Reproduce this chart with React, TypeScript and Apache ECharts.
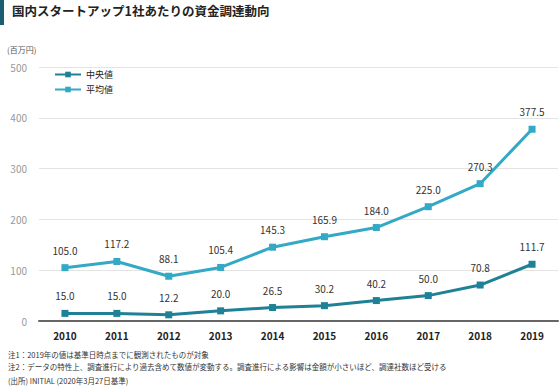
import React, { useEffect, useRef } from "react";
import * as echarts from "echarts";

const years = ["2010", "2011", "2012", "2013", "2014", "2015", "2016", "2017", "2018", "2019"];
const medianValues = [15.0, 15.0, 12.2, 20.0, 26.5, 30.2, 40.2, 50.0, 70.8, 111.7];
const averageValues = [105.0, 117.2, 88.1, 105.4, 145.3, 165.9, 184.0, 225.0, 270.3, 377.5];
const seriesNames = ["中央値", "平均値"];
const titleText = "国内スタートアップ1社あたりの資金調達動向";
const unitText = "(百万円)";
const notes = [
  "注1：2019年の値は基準日時点までに観測されたものが対象",
  "注2：データの特性上、調査進行により過去含めて数値が変動する。調査進行による影響は金額が小さいほど、調達社数ほど受ける",
];
const sourceText = "(出所) INITIAL (2020年3月27日基準)";

const FONT = "'Noto Sans CJK JP', 'Noto Sans', sans-serif";

export default function App() {
  const ref = useRef<HTMLDivElement>(null);
  useEffect(() => {
    if (!ref.current) return;
    const chart = echarts.init(ref.current, null, { renderer: "svg" });
    const labelStyle = {
      show: true,
      position: "top" as const,
      distance: 9,
      fontSize: 10,
      color: "#333",
      fontFamily: FONT,
      formatter: (p: any) => Number(p.value).toFixed(1),
    };
    chart.setOption({
      animation: false,
      backgroundColor: "#fff",
      textStyle: { fontFamily: FONT },
      graphic: [
        { type: "rect", left: 0, top: 0, shape: { width: 4, height: 25 }, style: { fill: "#1b5e6f" } },
        {
          type: "text", left: 12, top: 4,
          style: { text: titleText, fontSize: 12.5, fontWeight: "bold", fill: "#222", fontFamily: FONT },
        },
        {
          type: "text", left: 7, top: 45,
          style: { text: unitText, fontSize: 8, fill: "#555", fontFamily: FONT },
        },
        {
          type: "text", left: 8, top: 351,
          style: { text: notes[0], fontSize: 7.5, fill: "#333", fontFamily: FONT },
        },
        {
          type: "text", left: 8, top: 363,
          style: { text: notes[1], fontSize: 7.5, fill: "#333", fontFamily: FONT },
        },
        {
          type: "text", left: 8, top: 377,
          style: { text: sourceText, fontSize: 7.5, fill: "#333", fontFamily: FONT },
        },
      ],
      legend: {
        orient: "vertical",
        left: 50,
        top: 68,
        itemWidth: 26,
        itemHeight: 7,
        itemGap: 6,
        padding: [2, 4, 2, 4],
        backgroundColor: "#fff",
        textStyle: { fontSize: 9, color: "#222", fontFamily: FONT },
        data: seriesNames,
      },
      grid: { left: 39, right: 2, top: 67, bottom: 67 },
      xAxis: {
        type: "category",
        data: years,
        axisLine: { lineStyle: { color: "#666", width: 2 } },
        axisTick: { show: false },
        axisLabel: { fontSize: 10, fontWeight: "bold", color: "#222", margin: 9, fontFamily: FONT },
      },
      yAxis: {
        type: "value",
        min: 0,
        max: 500,
        interval: 100,
        axisLine: { show: false },
        axisTick: { show: false },
        axisLabel: { fontSize: 10, color: "#999", margin: 12, fontFamily: FONT },
        splitLine: { lineStyle: { color: "#e3e3e3", width: 1 } },
      },
      series: [
        {
          name: seriesNames[0],
          type: "line",
          data: medianValues,
          symbol: "rect",
          symbolSize: 7,
          color: "#1f8196",
          lineStyle: { width: 3, color: "#1f8196" },
          itemStyle: { color: "#1f8196" },
          label: labelStyle,
          z: 3,
        },
        {
          name: seriesNames[1],
          type: "line",
          data: averageValues,
          symbol: "rect",
          symbolSize: 7,
          color: "#33a9c6",
          lineStyle: { width: 3, color: "#33a9c6" },
          itemStyle: { color: "#33a9c6" },
          label: labelStyle,
          z: 3,
        },
      ],
    });
    return () => chart.dispose();
  }, []);
  return <div ref={ref} style={{ width: 560, height: 388, position: "fixed", left: 0, top: 0 }} />;
}
